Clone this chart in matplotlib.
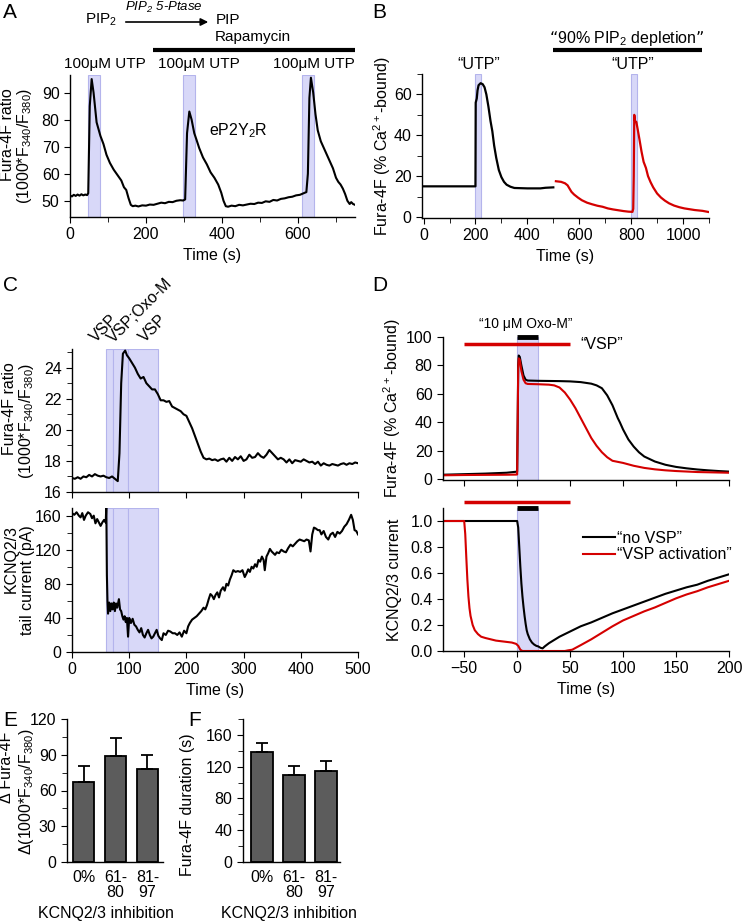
import matplotlib.pyplot as plt
import matplotlib.transforms as mtransforms
from matplotlib.ticker import MultipleLocator, NullFormatter

plt.rcParams['font.family'] = ['Liberation Sans', 'DejaVu Sans']
plt.rcParams['mathtext.default'] = 'regular'
plt.rcParams['font.size'] = 11.5
plt.rcParams['axes.linewidth'] = 1.0
plt.rcParams['xtick.major.size'] = 4
plt.rcParams['ytick.major.size'] = 4
plt.rcParams['xtick.minor.size'] = 3.5
plt.rcParams['ytick.minor.size'] = 3.5

SHADE = '#d8d8f8'
SHADE_EDGE = '#b4b4ec'
RED = '#d40000'

# ---- panel A: Fura-4F ratio, eP2Y2R ----
a_time = [0, 5, 10, 15, 20, 25, 30, 35, 40, 45, 48, 52, 57, 62, 70, 80, 88, 96, 105, 115,
          125, 135, 142, 148, 154, 160, 165, 172, 180, 190, 200, 210, 220, 230, 240, 250,
          260, 270, 280, 290, 298, 303, 308, 314, 320, 327, 333, 340, 350, 360, 370, 380,
          390, 398, 404, 410, 416, 425, 435, 445, 455, 465, 475, 485, 495, 505, 515, 525,
          535, 545, 555, 565, 575, 585, 595, 605, 615, 622, 626, 630, 634, 640, 646, 652,
          660, 668, 676, 684, 692, 700, 706, 712, 718, 724, 730, 736, 740, 745, 750]
a_ratio = [52, 51.6, 52.2, 51.8, 52.3, 51.9, 52.4, 52.0, 52.3, 52.1, 52.8, 85, 95, 90, 79,
           74, 71, 67, 64, 61.5, 59.5, 57.5, 55, 54, 51, 48.5, 48, 48.2, 47.9, 48.3, 48.2,
           48.6, 48.5, 48.9, 49.3, 49.1, 49.6, 49.5, 50, 50.2, 50.1, 50.5, 75, 83, 80, 75,
           72.5, 69.5, 66, 63.5, 60.5, 58.5, 56, 53, 50, 48, 47.8, 48.2, 48.0, 48.5, 48.3,
           48.6, 48.9, 48.8, 49.3, 49.2, 49.8, 49.6, 50.3, 50.1, 50.7, 50.9, 51.3, 51.5, 52,
           52.2, 52.8, 53.2, 60, 88, 95.5, 90, 82, 76, 72, 69.5, 67, 64.5, 62, 58.5, 57, 56,
           54.5, 52.5, 50, 48.8, 49.5, 48.8, 48.5]
a_utp_windows = [(47, 80), (297, 330), (610, 641)]
a_utp_label_x = [92, 339, 642]

# ---- panel B: simulated Fura-4F ----
b_time_ctrl = [0, 200, 201, 205, 208, 212, 220, 228, 235, 242, 250, 258, 265, 272, 280, 290,
               300, 310, 320, 335, 350, 400, 450, 470, 500]
b_ca_ctrl = [15, 15, 56, 58, 62, 64.5, 65.5, 65, 63.5, 60, 54, 47, 42, 35, 29, 23, 19.5,
             17.2, 15.8, 14.8, 14.2, 14, 14, 14.3, 14.5]
b_time_dep = [510, 530, 545, 555, 562, 570, 580, 595, 610, 630, 650, 670, 690, 710, 730, 750,
              770, 790, 805, 808, 810, 812, 815, 820, 825, 832, 840, 848, 857, 865, 875, 885,
              900, 915, 930, 946, 965, 985, 1005, 1025, 1045, 1075, 1100]
b_ca_dep = [17.5, 17.2, 16.5, 15.5, 14, 12.3, 11, 9.5, 8.2, 7, 6.2, 5.5, 5, 4.2, 3.7, 3.3,
            2.9, 2.6, 2.5, 4, 20, 50, 47, 46.5, 43, 38, 32, 27, 24, 20, 17, 14.5, 11.5, 9.5,
            8, 6.7, 5.6, 4.8, 4.2, 3.8, 3.4, 3.0, 2.4]
b_utp_windows = [(200, 222), (800, 822)]
b_utp_label_x = [211, 808]

# ---- panel C: Fura-4F ratio and KCNQ2/3 current ----
c_time_ca = list(range(0, 81, 5)) + [83, 86, 89, 93, 96] + list(range(100, 501, 5))
c_ratio = [16.9, 16.85, 16.95, 16.85, 17.0, 16.95, 17.1, 17.0, 17.15, 17.05, 17.0, 17.05,
           16.95, 16.9, 17.0, 16.85, 16.7, 18.5, 23, 24.9, 25.1, 24.8,
           24.6, 24.3, 24.0, 23.6, 23.3, 23.4, 23.0, 22.8, 22.6, 22.6, 22.3, 21.9, 21.9, 21.8,
           21.85, 21.5, 21.4, 21.3, 21.2, 21.0, 20.9, 20.5, 20.1, 19.6, 19.1, 18.6, 18.2, 18.1,
           18.15, 18.05, 18.1, 18.0, 18.1, 18.15, 17.95, 18.2, 18.0, 18.25, 18.1, 18.3, 18.0,
           18.1, 18.4, 18.2, 18.25, 18.5, 18.3, 18.2, 18.4, 18.7, 18.5, 18.3, 18.1, 18.2,
           18.1, 17.9, 18.1, 17.85, 18.05, 18.0, 17.95, 18.1, 18.0, 17.9, 17.95, 17.8, 17.95,
           17.7, 17.85, 17.75, 17.7, 17.8, 17.75, 17.7, 17.8, 17.85, 17.75, 17.85, 17.8,
           17.9, 17.85]
c_time_i = [0, 4, 8, 12, 15, 18, 21, 24, 28, 32, 35, 38, 41, 44, 47, 50, 53, 56, 59, 60, 61,
            62, 63, 65, 67, 69, 71, 73, 75, 77, 79, 82, 84, 86, 88, 90, 92, 94, 96, 98, 100,
            103, 106, 109, 112, 115, 118, 121, 124, 127, 130, 133, 136, 139, 142, 145, 148,
            151, 154, 157, 160, 164, 168, 172, 176, 180, 184, 188, 192, 196, 200, 203, 206,
            210, 214, 218, 222, 226, 230, 233, 236, 239, 242, 245, 248, 251, 254, 257, 260,
            264, 267, 270, 273, 276, 279, 282, 286, 290, 294, 298, 302, 305, 308, 311, 314,
            317, 320, 323, 326, 329, 332, 335, 337, 340, 343, 346, 349, 352, 355, 358, 362,
            366, 370, 374, 378, 382, 386, 390, 394, 398, 402, 406, 410, 414, 417, 420, 423,
            426, 430, 433, 436, 440, 444, 448, 452, 456, 460, 464, 468, 472, 476, 480, 484,
            488, 491, 494, 497, 500]
c_current = [163, 161, 164, 160, 158, 163, 155, 160, 164, 162, 157, 160, 151, 156, 152, 148,
             152, 155, 152, 172, 90, 60, 45, 58, 48, 57, 50, 58, 48, 57, 52, 62, 50, 48, 42,
             38, 42, 35, 40, 18, 40, 34, 39, 32, 30, 26, 23, 28, 20, 17, 22, 26, 20, 16, 18,
             22, 26, 19, 16, 14, 22, 20, 25, 24, 22, 22, 20, 23, 18, 25, 22, 30, 34, 38, 40,
             42, 45, 48, 52, 50, 55, 62, 68, 66, 62, 67, 70, 64, 72, 76, 72, 80, 78, 85, 90,
             96, 94, 95, 94, 96, 88, 92, 97, 94, 100, 98, 103, 100, 108, 106, 112, 108, 96,
             112, 116, 121, 118, 116, 114, 117, 116, 120, 118, 117, 122, 126, 124, 127, 130,
             132, 131, 130, 132, 131, 118, 138, 146, 145, 143, 143, 138, 142, 135, 132, 138,
             140, 135, 141, 139, 142, 147, 150, 155, 161, 155, 143, 142, 138]
c_windows = [(60, 72), (72, 98.5), (98.5, 150)]
c_window_labels = ['VSP', 'VSP;Oxo-M', 'VSP']
c_label_x = [42, 72, 128]

# ---- panel D: model, no VSP vs VSP activation ----
d_time_ca_ctrl = [-70, -50, -30, -10, -1, 0, 0.5, 1, 1.5, 2.5, 4, 6, 8, 10, 20, 30, 40, 50,
                  60, 70, 75, 80, 85, 90, 95, 97, 100, 105, 110, 115, 120, 130, 140, 150, 160,
                  170, 180, 190, 200]
d_ca_ctrl = [3.2, 3.6, 4.0, 4.6, 5.3, 5.5, 40, 80, 87, 86, 80, 73, 70, 69.4, 69.2, 69.1, 69,
             68.8, 68.3, 67.2, 66, 64, 59, 52, 43, 40, 35, 28, 23, 19, 16, 12.5, 10.2, 8.7,
             7.7, 6.9, 6.3, 5.8, 5.4]
d_time_ca_vsp = [-70, -50, -30, -10, -1, 0, 0.5, 1, 1.5, 2.5, 4, 6, 8, 10, 20, 30, 35, 40,
                 45, 50, 55, 60, 65, 70, 75, 80, 85, 90, 100, 110, 120, 130, 140, 150, 170, 200]
d_ca_vsp = [2.8, 3.0, 3.1, 3.2, 3.3, 3.4, 40, 78, 85, 84, 76, 70, 67.5, 67, 66.8, 66.5, 66,
            64.5, 61, 56, 50, 43, 36, 29, 23.5, 19, 15.5, 13, 11.5, 9.5, 8, 7, 6.3, 5.8, 5.1,
            4.6]
d_time_i_ctrl = [-70, 0, 1, 2, 3, 4, 5, 6, 7, 8, 9, 10, 12, 14, 16, 18, 20, 22, 24, 26, 30,
                 40, 50, 60, 70, 80, 90, 100, 110, 120, 130, 140, 150, 160, 170, 180, 190, 200]
d_i_ctrl = [1.0, 1.0, 0.95, 0.8, 0.65, 0.52, 0.42, 0.34, 0.27, 0.21, 0.16, 0.13, 0.09, 0.065,
            0.05, 0.04, 0.035, 0.025, 0.02, 0.035, 0.06, 0.11, 0.15, 0.19, 0.22, 0.255, 0.29,
            0.32, 0.35, 0.38, 0.41, 0.44, 0.465, 0.49, 0.51, 0.54, 0.565, 0.59]
d_time_i_vsp = [-70, -50, -49, -48, -47, -46, -45, -44, -42, -40, -37, -34, -30, -25, -20,
                -15, -10, -5, -1, 1, 3, 5, 45, 48, 52, 60, 70, 80, 90, 100, 110, 120, 130, 140,
                150, 160, 170, 180, 190, 200]
d_i_vsp = [1.0, 1.0, 0.9, 0.72, 0.55, 0.42, 0.33, 0.27, 0.2, 0.16, 0.13, 0.11, 0.1, 0.09,
           0.08, 0.075, 0.07, 0.065, 0.055, 0.04, 0.01, 0.0, 0.0, 0.005, 0.01, 0.045, 0.09,
           0.14, 0.19, 0.235, 0.27, 0.305, 0.335, 0.37, 0.405, 0.435, 0.46, 0.49, 0.515, 0.54]
d_oxo_window = (0, 20)
d_vsp_window = (-50, 50)

# ---- panels E, F: summary bars ----
groups = ['0%', '61-\n80', '81-\n97']
e_delta = [67.5, 89, 78]
e_delta_err = [13, 15, 12]
f_duration = [138, 109, 115]
f_duration_err = [11.5, 12, 12.5]

W, H = 742, 921
fig = plt.figure(figsize=(W / 100, H / 100), dpi=100)


def px_axes(left, top, right, bottom):
    ax = fig.add_axes([left / W, 1 - bottom / H, (right - left) / W, (bottom - top) / H])
    ax.spines['top'].set_visible(False)
    ax.spines['right'].set_visible(False)
    return ax


def top_text(ax, x, y, s, **kw):
    tr = mtransforms.blended_transform_factory(ax.transData, ax.transAxes)
    ax.text(x, y, s, transform=tr, clip_on=False, **kw)


def top_bar(ax, x0, x1, y, **kw):
    tr = mtransforms.blended_transform_factory(ax.transData, ax.transAxes)
    ax.plot([x0, x1], [y, y], transform=tr, clip_on=False, solid_capstyle='butt', **kw)


def side_label(ax, x, y, s, **kw):
    # rotated label, placed by the right edge of its box (axes coords)
    ax.text(x, y, s, transform=ax.transAxes, rotation=90, ha='right', va='center', **kw)


# A
ax = px_axes(70, 75, 355, 217)
for s0, s1 in a_utp_windows:
    ax.axvspan(s0, s1, facecolor=SHADE, edgecolor=SHADE_EDGE, lw=0.8)
ax.plot(a_time, a_ratio, color='black', lw=1.5)
ax.set_xlim(0, 750)
ax.set_ylim(44, 96.5)
ax.xaxis.set_major_locator(MultipleLocator(200))
ax.xaxis.set_minor_locator(MultipleLocator(100))
ax.yaxis.set_major_locator(MultipleLocator(10))
ax.set_xlabel('Time (s)')
side_label(ax, -0.125, 0.5, 'Fura-4F ratio\n(1000*F$_{340}$/F$_{380}$)', linespacing=1.05)
for x in a_utp_label_x:
    top_text(ax, x, 1.075, '100μM UTP', ha='center', va='center', fontsize=11)
top_bar(ax, 218, 750, 1.176, color='black', lw=3)
ax.text(442, 76, 'eP2Y$_2$R', fontsize=11.5, ha='center', va='center')
fig.text(101 / W, 1 - 20 / H, 'PIP$_2$', ha='center', va='center', fontsize=11)
fig.text(164 / W, 1 - 7 / H, 'PIP$_2$ 5-Ptase', ha='center', va='center', fontsize=9.5,
         style='italic')
fig.text(228 / W, 1 - 20 / H, 'PIP', ha='center', va='center', fontsize=11)
fig.text(253 / W, 1 - 37 / H, 'Rapamycin', ha='center', va='center', fontsize=11)
ax.annotate('', xy=(211 / W, 1 - 22 / H), xytext=(123 / W, 1 - 22 / H),
            xycoords='figure fraction', textcoords='figure fraction',
            arrowprops=dict(arrowstyle='-|>', color='black', lw=1.2, mutation_scale=11))

# B
ax = px_axes(422, 74, 709, 218)
for s0, s1 in b_utp_windows:
    ax.axvspan(s0, s1, facecolor=SHADE, edgecolor=SHADE_EDGE, lw=0.8)
ax.plot(b_time_ctrl, b_ca_ctrl, color='black', lw=1.6)
ax.plot(b_time_dep, b_ca_dep, color=RED, lw=1.6)
ax.set_xlim(-6, 1100)
ax.set_ylim(-0.5, 70)
ax.xaxis.set_major_locator(MultipleLocator(200))
ax.xaxis.set_minor_locator(MultipleLocator(100))
ax.yaxis.set_major_locator(MultipleLocator(20))
ax.yaxis.set_minor_locator(MultipleLocator(10))
ax.set_xlabel('Time (s)')
side_label(ax, -0.10, 0.5, 'Fura-4F (% Ca$^{2+}$-bound)')
for x in b_utp_label_x:
    top_text(ax, x, 1.065, '\u201cUTP\u201d', ha='center', va='center')
top_text(ax, 785, 1.25, '\u201c90% PIP$_2$ depletion\u201d', ha='center', va='center')
top_bar(ax, 498, 1073, 1.167, color='black', lw=3)

# C top
ax = px_axes(72, 349, 358, 492)
for s0, s1 in c_windows:
    ax.axvspan(s0, s1, facecolor=SHADE, edgecolor=SHADE_EDGE, lw=0.8)
ax.plot(c_time_ca, c_ratio, color='black', lw=1.5)
ax.set_xlim(0, 500)
ax.set_ylim(16, 25.2)
ax.xaxis.set_major_locator(MultipleLocator(100))
ax.xaxis.set_major_formatter(NullFormatter())
ax.yaxis.set_major_locator(MultipleLocator(2))
ax.yaxis.set_minor_locator(MultipleLocator(1))
side_label(ax, -0.125, 0.5, 'Fura-4F ratio\n(1000*F$_{340}$/F$_{380}$)', linespacing=1.05)
for x, s in zip(c_label_x, c_window_labels):
    top_text(ax, x, 1.04, s, rotation=45, rotation_mode='anchor', ha='left',
             va='baseline', fontsize=11.5)

# C bottom
ax = px_axes(72, 508, 358, 652)
for s0, s1 in c_windows:
    ax.axvspan(s0, s1, facecolor=SHADE, edgecolor=SHADE_EDGE, lw=0.8)
ax.plot(c_time_i, c_current, color='black', lw=1.5)
ax.set_xlim(0, 500)
ax.set_ylim(0, 169)
ax.xaxis.set_major_locator(MultipleLocator(100))
ax.yaxis.set_major_locator(MultipleLocator(40))
ax.yaxis.set_minor_locator(MultipleLocator(20))
ax.set_xlabel('Time (s)')
side_label(ax, -0.13, 0.5, 'KCNQ2/3\ntail current (pA)', linespacing=1.05)

# D top
ax = px_axes(443, 337, 729, 480)
ax.axvspan(*d_oxo_window, facecolor=SHADE, edgecolor=SHADE_EDGE, lw=0.8)
ax.plot(d_time_ca_ctrl, d_ca_ctrl, color='black', lw=1.5)
ax.plot(d_time_ca_vsp, d_ca_vsp, color=RED, lw=1.5)
ax.plot(d_vsp_window, [95, 95], color=RED, lw=2.5, solid_capstyle='butt')
ax.plot(d_oxo_window, [100, 100], color='black', lw=3.5, solid_capstyle='butt',
        clip_on=False)
ax.set_xlim(-70, 200)
ax.set_ylim(-0.5, 100)
ax.xaxis.set_major_locator(MultipleLocator(50))
ax.xaxis.set_major_formatter(NullFormatter())
ax.yaxis.set_major_locator(MultipleLocator(20))
side_label(ax, -0.14, 0.5, 'Fura-4F (% Ca$^{2+}$-bound)')
ax.text(8, 109, '\u201c10 μM Oxo-M\u201d', ha='center', va='center', fontsize=10)
ax.text(60, 95, '\u201cVSP\u201d', ha='left', va='center')

# D bottom
ax = px_axes(443, 508, 729, 651)
ax.axvspan(*d_oxo_window, facecolor=SHADE, edgecolor=SHADE_EDGE, lw=0.8)
ax.plot(d_time_i_ctrl, d_i_ctrl, color='black', lw=1.5, label='\u201cno VSP\u201d')
ax.plot(d_time_i_vsp, d_i_vsp, color=RED, lw=1.5, label='\u201cVSP activation\u201d')
ax.plot(d_vsp_window, [1.147, 1.147], color=RED, lw=2.5, solid_capstyle='butt',
        clip_on=False)
ax.plot(d_oxo_window, [1.1, 1.1], color='black', lw=3.5, solid_capstyle='butt',
        clip_on=False)
ax.set_xlim(-70, 200)
ax.set_ylim(0, 1.1)
ax.xaxis.set_major_locator(MultipleLocator(50))
ax.yaxis.set_major_locator(MultipleLocator(0.2))
ax.yaxis.set_major_formatter(plt.FormatStrFormatter('%.1f'))
ax.set_xlabel('Time (s)')
side_label(ax, -0.143, 0.5, 'KCNQ2/3 current')
ax.legend(loc='upper left', bbox_to_anchor=(0.49, 0.84), frameon=False, handlelength=2.0,
          handletextpad=0.1, borderaxespad=0, borderpad=0, labelspacing=0.1)

# E
ax = px_axes(67, 719, 163, 862)
xpos = range(len(groups))
ax.bar(xpos, e_delta, width=0.67, color='#5c5c5c', edgecolor='black', lw=1.3,
       yerr=[[0] * 3, e_delta_err], capsize=4,
       error_kw=dict(elinewidth=1.3, capthick=1.3, ecolor='black'))
ax.set_xlim(-0.53, 2.49)
ax.set_ylim(0, 120)
ax.set_xticks(list(xpos))
ax.set_xticklabels(groups, linespacing=1.0)
ax.tick_params(axis='x', length=0, pad=6)
ax.yaxis.set_major_locator(MultipleLocator(30))
ax.yaxis.set_minor_locator(MultipleLocator(15))
side_label(ax, -0.55, 0.66, 'Δ Fura-4F')
side_label(ax, -0.32, 0.49, 'Δ(1000*F$_{340}$/F$_{380}$)')
ax.set_xlabel('KCNQ2/3 inhibition')
ax.xaxis.set_label_coords(0.41, -0.305)

# F
ax = px_axes(243, 719, 340, 862)
ax.bar(xpos, f_duration, width=0.68, color='#5c5c5c', edgecolor='black', lw=1.3,
       yerr=[[0] * 3, f_duration_err], capsize=4,
       error_kw=dict(elinewidth=1.3, capthick=1.3, ecolor='black'))
ax.set_xlim(-0.6, 2.45)
ax.set_ylim(0, 180)
ax.set_xticks(list(xpos))
ax.set_xticklabels(groups, linespacing=1.0)
ax.tick_params(axis='x', length=0, pad=6)
ax.yaxis.set_major_locator(MultipleLocator(40))
ax.yaxis.set_minor_locator(MultipleLocator(20))
side_label(ax, -0.49, 0.40, 'Fura-4F duration (s)')
ax.set_xlabel('KCNQ2/3 inhibition')
ax.xaxis.set_label_coords(0.47, -0.305)

# panel letters
for letter, (x, y) in zip('ABCDEF', [(3, 12), (372, 12), (3, 285), (372, 285),
                                     (3, 720), (188, 720)]):
    fig.text(x / W, 1 - y / H, letter, fontsize=15, ha='left', va='center')

fig.savefig('out.png', dpi=100)
